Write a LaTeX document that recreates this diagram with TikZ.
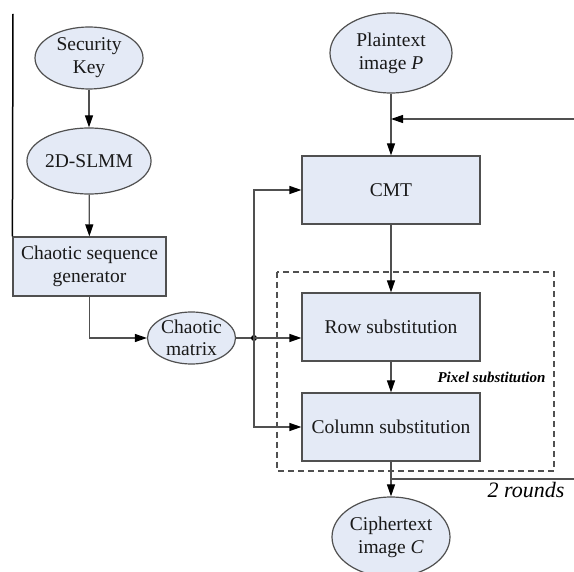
\documentclass[tikz,border=0pt]{standalone}
\usepackage{fontspec}
\setmainfont{Liberation Serif}
\usetikzlibrary{arrows.meta,shapes.geometric}
\definecolor{boxfill}{RGB}{228,234,246}
\definecolor{linegray}{RGB}{80,80,80}
\newcommand{\txtsize}{\rmfamily\fontsize{19.5}{23}\selectfont}
\tikzset{
  blk/.style={draw=linegray,fill=boxfill,line width=1.2pt,rectangle,
    minimum width=178pt,minimum height=68pt,font=\txtsize,align=center,text=black!90},
  oval/.style={draw=linegray,fill=boxfill,line width=1.2pt,ellipse,inner sep=0pt,
    font=\txtsize,align=center,text=black!90},
  arr/.style={draw=linegray,line width=1.2pt,-{Triangle[length=12pt,width=8pt,color=black]}}
}

\begin{document}
\begin{tikzpicture}[x=1pt,y=-1pt]
  \useasboundingbox (0,0) rectangle (574,572);
  % left column
  \node (key) [oval,minimum width=108pt,minimum height=62pt] at (89,58) {Security\\Key};
  \node (slmm) [oval,minimum width=108pt,minimum height=66pt] at (89,161) {2D-SLMM};
  \node (gen) [blk,minimum width=153pt,minimum height=59pt] at (89.5,266.5) {Chaotic sequence\\generator};
  \node (matrix) [oval,minimum width=88pt,minimum height=52pt,font=\rmfamily\fontsize{19.5}{22}\selectfont] at (191.5,338) {Chaotic\\matrix};
  % right column
  \node (plain) [oval,minimum width=122pt,minimum height=80pt] at (391,53) {Plaintext\\image \textit{P}};
  \node (cmt) [blk] at (391,190) {CMT};
  \node (row) [blk] at (391,327) {Row substitution};
  \node (col) [blk] at (391,427) {Column substitution};
  \node (cipher) [oval,minimum width=118pt,minimum height=80pt] at (391,537) {Ciphertext\\image \textit{C}};
  \coordinate (split) at (254,338);
  \coordinate (fb) at (574,119);
  \coordinate (fbin) at (391,119);
  \coordinate (rnd) at (574,479);
  \coordinate (rndin) at (391,479);
  \draw [black,line width=1.5pt] (13,14) -- (gen.north west);
  \draw [arr] (key) -- (slmm);
  \draw [arr] (slmm) -- (gen);
  \draw [arr] (gen.south) |- (matrix.west);
  \draw [draw=linegray,line width=1.2pt] (matrix.east) -- (split);
  \fill (split) circle (3pt);
  \draw [arr] (split) -- (row.west |- split);
  \draw [arr] (split) |- (cmt.west);
  \draw [arr] (split) |- (col.west);
  \draw [arr] (plain) -- (cmt);
  \draw [arr] (fb) -- (fbin);
  \draw [arr] (cmt) -- (row);
  \draw [arr] (row) -- (col);
  \draw [arr] (col) -- (cipher);
  \draw [draw=linegray,line width=1.2pt] (rndin) -- (rnd);
  \draw [draw=linegray,line width=1.2pt,dash pattern=on 6pt off 4pt] (277,272) rectangle (554,471);
  \node (pixlbl) [anchor=base east,font=\rmfamily\fontsize{15}{17}\selectfont\bfseries\itshape] at (549,383) {Pixel substitution};
  \node (rounds) [anchor=base east,font=\rmfamily\fontsize{22}{24}\selectfont\itshape] at (568,498) {2 rounds};
\end{tikzpicture}
\end{document}
